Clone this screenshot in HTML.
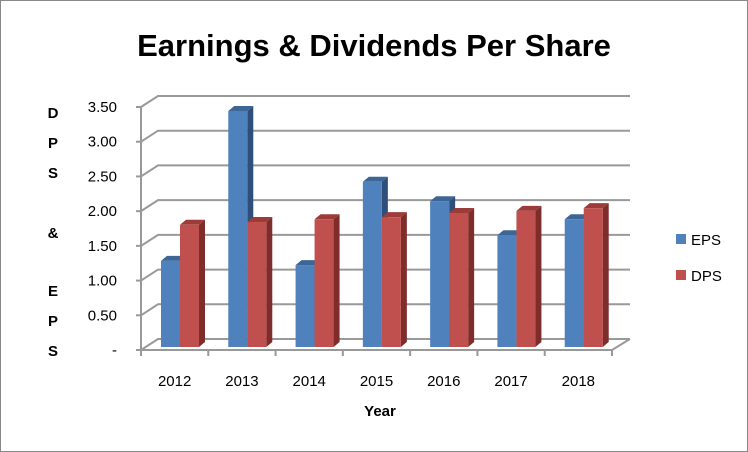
<!DOCTYPE html>
<html><head><meta charset="utf-8"><style>
body{margin:0;background:#fff}
svg{display:block;font-family:"Liberation Sans",Calibri,sans-serif}
</style></head><body>
<svg width="748" height="452">
<rect x="0.5" y="0.5" width="747" height="451" fill="#fff" stroke="#888"/>
<text x="374" y="56" text-anchor="middle" font-size="31" font-weight="bold">Earnings &amp; Dividends Per Share</text>
<g id="plot"></g>
<g font-size="15" font-weight="bold" text-anchor="middle">
<text x="53" y="118">D</text><text x="53" y="148">P</text><text x="53" y="178">S</text>
<text x="53" y="238">&amp;</text><text x="53" y="296">E</text><text x="53" y="326">P</text><text x="53" y="356">S</text>
</g>
<text x="380" y="416" text-anchor="middle" font-size="15" font-weight="bold">Year</text>
<g font-size="15">
<rect x="676" y="234" width="10" height="10" fill="#4f81bd"/>
<text x="691" y="245">EPS</text>
<rect x="676" y="270" width="10" height="10" fill="#c0504d"/>
<text x="691" y="281">DPS</text>
</g>
</svg>
<script>
const categories=["2012","2013","2014","2015","2016","2017","2018"];
const eps=[1.24,3.40,1.18,2.38,2.10,1.61,1.84];
const dps=[1.76,1.80,1.84,1.87,1.93,1.96,2.00];
const yTicks=[0,0.5,1,1.5,2,2.5,3,3.5];
const yTickLabels=["-","0.50","1.00","1.50","2.00","2.50","3.00","3.50"];
const NS="http://www.w3.org/2000/svg";
const g=document.getElementById('plot');
const fx0=141,fx1=612,fy0=350,dx=17,dy=-11,yMax=3.5,ph=243;
const cw=(fx1-fx0)/categories.length;
function yF(v){return fy0-v/yMax*ph;}
function mk(t,a){const e=document.createElementNS(NS,t);for(const k in a)e.setAttribute(k,a[k]);g.appendChild(e);return e;}
// grid lines and wall
yTicks.forEach((v,i)=>{
 const y=yF(v);
 let l=mk('polyline',{points:`${fx0},${y} ${fx0+dx},${y+dy} ${fx1+dx+1},${y+dy}`,fill:'none',stroke:'#999','stroke-width':2});
 
 let t=mk('text',{x:117,y:y+5,'text-anchor':'end','font-size':15});
 t.textContent=yTickLabels[i];
 
});
let fl=mk('polyline',{points:`${fx0},${fy0} ${fx1},${fy0} ${fx1+dx+1},${fy0+dy}`,fill:'none',stroke:'#999','stroke-width':2});

let ax=mk('line',{x1:fx0,y1:yF(yMax),x2:fx0,y2:fy0+5,stroke:'#999','stroke-width':2});

yTicks.forEach(v=>{let t=mk('line',{x1:fx0-5,y1:yF(v),x2:fx0,y2:yF(v),stroke:'#999','stroke-width':2});});
for(let i=0;i<=categories.length;i++){let x=fx0+i*cw;let t=mk('line',{x1:x,y1:fy0,x2:x,y2:fy0+6,stroke:'#999','stroke-width':2});}
function bar(x,v,cf,cs,ct,name){
 const w=19,bd=6,bt=-5,b=347,top=b-v/yMax*ph*(fy0-3-yF(yMax))/(fy0-3-yF(yMax));
 const yt=347-v/yMax*ph;
 let s=mk('polygon',{points:`${x+w},${b} ${x+w},${yt} ${x+w+bd},${yt+bt} ${x+w+bd},${b+bt}`,fill:cs});
 
 let tp=mk('polygon',{points:`${x},${yt} ${x+bd},${yt+bt} ${x+w+bd},${yt+bt} ${x+w},${yt}`,fill:ct});
 
 let f=mk('rect',{x:x,y:yt,width:w,height:b-yt,fill:cf});
 
}
categories.forEach((c,i)=>{
 const x=fx0+i*cw+20;
 bar(x,eps[i],'#4f81bd','#2f4f7a','#3d6696','bar-eps-'+c);
 bar(x+19,dps[i],'#c0504d','#7f2d2b','#9c3b38','bar-dps-'+c);
 let t=mk('text',{x:fx0+i*cw+cw/2,y:386,'text-anchor':'middle','font-size':15});
 t.textContent=c;
 
});
</script>
</body></html>
